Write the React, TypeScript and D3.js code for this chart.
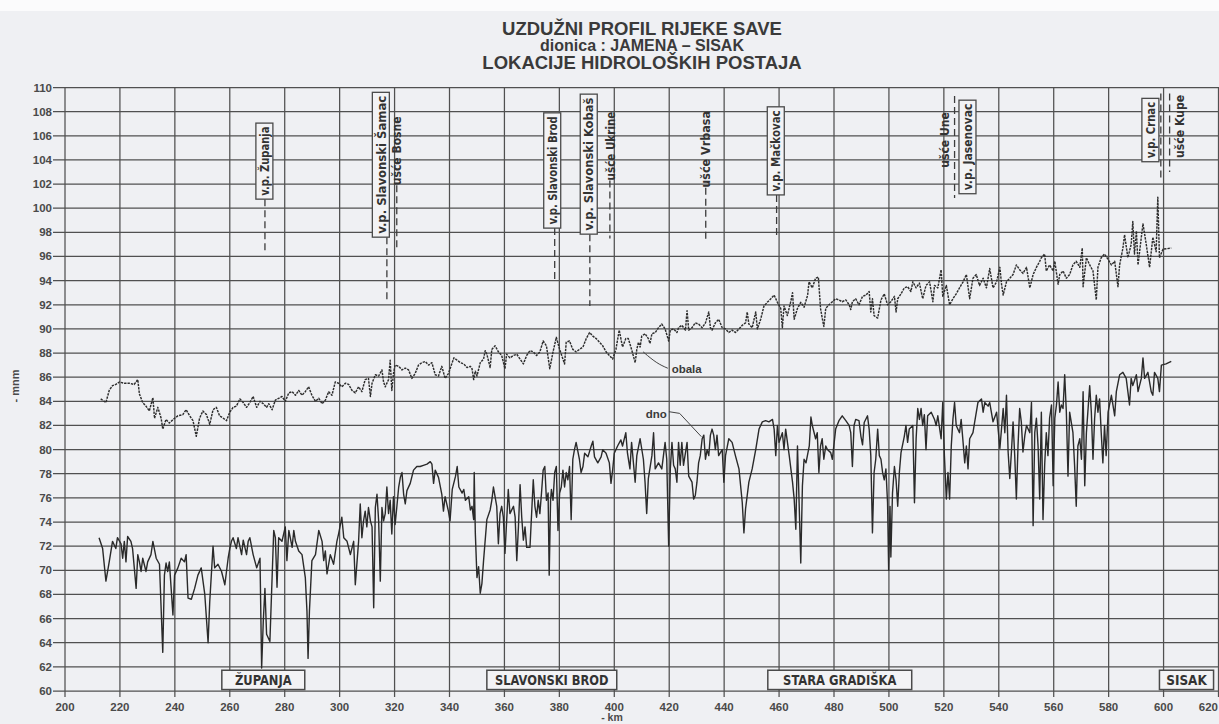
import React from "react";
import * as d3 from "d3";

// Longitudinal profile of the Sava river, Jamena – Sisak section.
// Chainage in river km, elevations in m a.s.l.

const kmTicks = d3.range(200, 621, 20);
const elevTicks = d3.range(60, 111, 2);

const titleLines = [
  "UZDUŽNI PROFIL RIJEKE SAVE",
  "dionica : JAMENA – SISAK",
  "LOKACIJE HIDROLOŠKIH POSTAJA",
];

// Bank level (obala): [km, elevation]
const obala: [number, number][] = [
  [213.0, 84.2], [214.9, 83.9], [216.1, 84.9], [217.3, 85.3], [218.5, 85.4], [219.8, 85.6], [221.6, 85.5], [223.4, 85.5],
  [225.2, 85.4], [226.5, 85.8], [227.1, 84.6], [228.3, 83.9], [229.5, 83.6], [230.7, 83.2], [232.0, 84.3], [232.6, 82.6],
  [233.8, 83.5], [235.0, 82.6], [235.6, 81.7], [236.8, 82.5], [238.0, 82.2], [239.9, 82.6], [241.1, 82.8], [242.9, 82.9],
  [244.1, 83.3], [245.4, 82.8], [246.6, 82.4], [247.8, 81.1], [249.0, 82.6], [250.2, 83.2], [251.5, 82.9], [252.7, 82.1],
  [253.9, 83.3], [255.1, 83.5], [256.3, 82.8], [257.6, 82.6], [258.8, 82.4], [260.0, 83.1], [261.2, 83.5], [262.4, 83.6],
  [263.7, 84.2], [264.9, 83.9], [266.1, 83.5], [267.3, 83.9], [268.5, 84.4], [269.8, 83.5], [271.0, 84.0], [272.2, 83.8],
  [273.4, 83.5], [274.2, 83.8], [275.4, 83.3], [276.6, 84.1], [277.8, 84.25], [279.0, 84.4], [280.2, 84.0], [281.5, 84.7],
  [282.7, 84.8], [283.9, 84.5], [285.1, 84.9], [286.3, 84.5], [287.5, 84.8], [288.7, 85.2], [289.9, 84.5], [291.2, 84.0],
  [292.4, 84.25], [293.6, 83.8], [294.8, 84.1], [296.0, 84.8], [297.2, 84.5], [298.4, 85.6], [299.6, 85.5], [300.8, 85.2],
  [302.1, 85.5], [303.3, 85.4], [304.5, 84.9], [305.7, 84.7], [306.9, 85.2], [308.1, 84.8], [309.3, 85.8], [310.5, 85.9],
  [311.2, 84.4], [311.8, 85.5], [313.0, 86.2], [314.2, 86.1], [315.4, 86.6], [316.0, 85.6], [316.6, 85.2], [317.8, 85.8],
  [318.4, 87.4], [319.0, 84.9], [319.6, 86.3], [320.2, 87.0], [321.5, 86.9], [322.7, 86.6], [323.9, 86.75], [325.1, 86.6],
  [326.3, 85.9], [327.5, 86.3], [328.7, 87.0], [329.9, 87.2], [331.2, 87.3], [332.4, 87.0], [333.6, 87.2], [334.8, 86.2],
  [336.0, 86.1], [337.2, 86.9], [338.4, 85.9], [339.6, 86.3], [341.6, 87.6], [342.8, 87.4], [344.0, 87.2], [345.2, 87.1],
  [346.4, 86.8], [347.6, 86.9], [348.2, 86.7], [348.8, 85.8], [349.4, 86.5], [350.0, 86.1], [351.2, 87.2], [352.4, 87.5],
  [353.0, 88.2], [353.6, 87.9], [354.8, 86.8], [355.4, 88.3], [356.6, 88.6], [357.8, 88.1], [359.0, 87.8], [360.2, 86.7],
  [360.8, 87.9], [362.0, 87.6], [363.3, 87.8], [364.5, 87.9], [365.7, 87.5], [366.9, 87.1], [368.1, 87.8], [369.3, 88.2],
  [370.5, 88.1], [371.7, 87.8], [372.9, 88.1], [374.1, 89.0], [375.3, 88.6], [376.5, 86.7], [377.7, 88.1], [378.9, 89.3],
  [380.1, 88.3], [381.3, 87.5], [381.9, 87.1], [382.5, 88.9], [383.7, 89.0], [384.9, 88.3], [386.1, 88.1], [387.3, 88.3],
  [388.6, 88.5], [389.8, 89.2], [391.0, 89.7], [392.2, 89.4], [393.4, 89.2], [394.6, 88.9], [395.8, 88.6], [397.0, 88.1],
  [398.2, 87.8], [399.4, 87.5], [400.0, 87.9], [400.6, 88.3], [401.8, 89.9], [403.0, 88.5], [404.2, 89.2], [405.1, 89.2],
  [406.3, 88.3], [407.6, 87.2], [408.2, 88.3], [408.8, 88.9], [409.4, 88.5], [410.0, 89.4], [411.2, 89.6], [412.4, 89.2],
  [413.0, 88.8], [413.7, 89.6], [414.9, 89.7], [416.1, 90.1], [417.3, 90.4], [418.5, 90.0], [419.8, 89.0], [420.4, 89.9],
  [421.6, 90.0], [422.8, 89.7], [423.4, 90.1], [424.6, 90.3], [425.9, 89.9], [426.5, 91.5], [427.1, 89.9], [428.3, 90.1],
  [429.5, 90.5], [430.7, 90.4], [432.0, 90.1], [433.2, 90.5], [434.4, 91.4], [435.0, 90.1], [435.6, 89.9], [436.8, 90.5],
  [438.0, 90.8], [439.3, 90.1], [440.5, 90.0], [441.7, 89.7], [442.9, 89.9], [444.1, 89.7], [445.4, 90.0], [446.6, 90.3],
  [447.8, 90.5], [448.4, 91.4], [449.0, 90.4], [450.2, 90.1], [451.5, 91.4], [452.1, 90.0], [453.3, 90.8], [454.5, 91.9],
  [455.7, 92.2], [457.0, 92.5], [458.2, 92.8], [459.4, 92.2], [460.6, 91.7], [461.2, 90.1], [461.8, 91.9], [463.0, 91.1],
  [464.3, 92.3], [464.9, 93.0], [465.5, 90.8], [466.7, 91.7], [467.9, 92.2], [469.1, 91.8], [470.4, 92.8], [470.9, 93.9],
  [472.1, 93.4], [473.3, 94.2], [474.3, 94.3], [475.1, 91.7], [475.7, 90.9], [476.3, 90.2], [477.0, 91.7], [478.2, 92.0],
  [479.4, 92.25], [480.6, 92.5], [481.8, 92.4], [483.0, 92.25], [484.3, 92.4], [485.5, 92.0], [486.1, 91.6], [486.7, 92.25],
  [487.9, 92.5], [489.1, 92.0], [490.4, 92.7], [491.6, 92.8], [492.8, 93.1], [493.4, 91.4], [494.0, 92.5], [494.6, 91.1],
  [495.9, 90.9], [497.1, 92.4], [498.3, 92.9], [499.5, 92.0], [500.7, 92.25], [502.0, 92.7], [502.6, 91.4], [503.2, 92.5],
  [504.4, 92.9], [505.6, 93.4], [506.8, 93.5], [508.0, 93.1], [508.7, 93.9], [509.9, 93.4], [511.1, 93.8], [512.3, 92.5],
  [513.5, 93.6], [514.8, 93.9], [516.0, 92.25], [516.6, 93.6], [517.8, 93.4], [519.0, 94.9], [519.6, 92.7], [520.9, 93.6],
  [522.1, 92.0], [523.3, 92.5], [524.5, 92.9], [525.7, 93.4], [527.0, 93.9], [528.2, 94.5], [529.4, 92.5], [530.6, 94.2],
  [531.8, 94.5], [533.0, 93.6], [534.3, 94.2], [535.5, 93.4], [536.7, 95.0], [537.9, 93.4], [539.2, 93.9], [540.4, 95.1],
  [541.0, 93.7], [541.6, 92.8], [542.8, 93.9], [544.0, 94.2], [545.2, 94.5], [546.4, 95.3], [547.6, 94.9], [548.8, 94.6],
  [550.1, 95.1], [551.3, 93.4], [552.5, 94.5], [553.7, 95.1], [554.9, 95.6], [555.5, 95.9], [556.7, 96.2], [557.3, 94.8],
  [558.5, 95.3], [559.8, 94.8], [560.4, 95.6], [561.6, 93.7], [562.2, 94.5], [563.4, 94.8], [564.6, 94.2], [565.8, 94.5],
  [567.0, 95.3], [568.2, 95.6], [569.5, 95.1], [570.4, 96.7], [570.7, 93.5], [571.9, 95.9], [573.1, 95.3], [574.3, 94.8],
  [575.5, 92.4], [576.1, 95.1], [577.3, 95.9], [578.5, 96.2], [579.8, 95.75], [581.0, 95.3], [582.2, 95.6], [583.4, 93.5],
  [584.0, 95.3], [585.2, 96.7], [585.8, 97.8], [587.0, 95.9], [588.2, 97.0], [588.8, 98.9], [589.4, 96.2], [590.1, 98.1],
  [590.7, 95.3], [591.9, 97.6], [592.5, 98.7], [593.7, 97.0], [594.9, 95.1], [596.1, 97.6], [597.3, 96.4], [597.9, 100.9],
  [598.5, 95.9], [599.8, 96.6], [602.8, 96.7],
];

// River bed level (dno): [km, elevation]
const dno: [number, number][] = [
  [212.4, 72.7], [213.7, 71.8], [214.9, 69.1], [216.1, 70.7], [217.3, 72.4], [218.5, 71.8], [219.1, 72.7], [220.4, 72.2],
  [221.0, 71.0], [221.6, 72.4], [222.2, 70.7], [222.8, 72.8], [224.0, 72.4], [224.6, 71.8], [225.9, 68.5], [226.5, 71.3],
  [227.1, 70.7], [227.7, 69.9], [228.3, 71.0], [229.5, 69.9], [230.1, 70.7], [231.3, 71.3], [232.0, 72.4], [233.2, 71.0],
  [234.4, 70.5], [235.6, 63.2], [236.2, 69.6], [236.8, 70.6], [237.4, 69.9], [238.0, 70.7], [239.3, 66.3], [239.9, 69.6],
  [241.1, 70.2], [242.3, 71.0], [243.5, 70.7], [244.1, 71.3], [244.8, 67.7], [246.0, 67.6], [247.2, 68.5], [248.4, 69.6],
  [249.6, 70.2], [250.9, 68.0], [252.1, 64.0], [252.7, 67.4], [253.9, 72.0], [254.5, 70.2], [255.7, 70.5], [257.0, 69.9],
  [258.2, 68.8], [259.4, 71.0], [260.0, 71.8], [260.6, 72.4], [261.2, 72.7], [262.4, 71.8], [263.0, 72.7], [264.3, 71.3],
  [264.9, 72.5], [266.1, 71.3], [266.7, 72.4], [267.3, 72.7], [268.5, 71.3], [269.8, 70.2], [271.0, 71.0], [271.6, 61.9],
  [272.2, 65.8], [272.8, 68.5], [273.4, 64.7], [274.6, 64.1], [276.0, 73.3], [276.6, 72.7], [277.2, 68.6], [277.8, 72.7],
  [279.0, 72.4], [280.2, 73.6], [280.8, 70.8], [281.5, 73.3], [282.7, 71.9], [283.3, 73.3], [283.9, 72.4], [285.1, 71.6],
  [286.3, 71.3], [287.5, 69.4], [288.1, 66.6], [288.5, 62.7], [289.0, 66.6], [289.9, 70.8], [291.2, 71.3], [292.4, 73.3],
  [293.6, 72.4], [294.2, 70.8], [294.8, 71.6], [295.4, 69.7], [296.6, 71.3], [297.8, 70.5], [299.0, 72.4], [299.6, 73.0],
  [300.8, 74.4], [301.5, 72.7], [302.7, 72.4], [303.9, 71.3], [305.1, 72.4], [305.7, 68.8], [306.9, 72.4], [307.5, 75.5],
  [308.1, 72.7], [308.7, 74.1], [309.3, 74.9], [309.9, 73.6], [310.5, 75.2], [311.2, 74.1], [311.8, 73.6], [312.4, 66.9],
  [313.0, 75.2], [313.6, 76.3], [314.2, 74.1], [314.8, 69.1], [315.4, 75.2], [316.0, 74.1], [316.6, 74.7], [317.2, 76.9],
  [317.8, 74.7], [318.4, 75.8], [319.0, 73.0], [319.6, 76.1], [320.2, 73.8], [320.8, 75.2], [321.5, 76.9], [322.1, 77.7],
  [322.7, 78.1], [323.3, 76.3], [323.9, 75.5], [324.5, 76.6], [325.7, 77.2], [326.9, 78.3], [328.1, 78.6], [329.3, 78.6],
  [330.5, 78.7], [331.8, 78.8], [333.0, 79.0], [333.6, 78.8], [334.2, 77.2], [334.8, 78.3], [336.0, 77.7], [337.2, 76.3],
  [337.8, 74.9], [338.4, 76.1], [339.6, 74.9], [340.2, 74.1], [341.0, 76.7], [342.2, 77.8], [342.8, 78.6], [343.4, 76.9],
  [344.6, 76.4], [345.2, 76.7], [345.8, 75.8], [347.0, 76.1], [347.6, 75.0], [348.2, 75.3], [348.8, 74.2], [349.0, 78.1],
  [349.4, 73.1], [350.0, 69.4], [350.6, 70.3], [351.2, 68.1], [351.8, 68.9], [352.4, 70.8], [353.6, 74.2], [354.8, 75.0],
  [355.4, 75.8], [356.0, 76.9], [357.2, 75.3], [357.8, 72.2], [358.4, 74.7], [359.0, 75.3], [359.6, 74.4], [360.2, 71.4],
  [361.4, 76.7], [362.0, 74.7], [363.3, 75.3], [363.9, 74.4], [364.5, 70.8], [365.1, 73.6], [365.7, 77.1], [366.3, 74.4],
  [366.9, 72.5], [367.5, 73.6], [368.1, 71.9], [369.3, 71.9], [370.5, 77.5], [371.1, 75.3], [371.7, 74.4], [372.3, 75.8],
  [372.9, 74.7], [373.5, 76.4], [374.1, 78.3], [374.7, 78.6], [375.3, 75.8], [375.9, 76.4], [376.3, 69.6], [376.8, 75.8],
  [377.1, 76.7], [377.7, 75.8], [378.3, 78.1], [378.9, 78.6], [379.5, 73.3], [380.1, 76.4], [380.7, 76.9], [381.3, 78.3],
  [381.9, 76.9], [382.5, 78.1], [383.1, 77.5], [383.7, 78.6], [384.3, 74.2], [384.9, 79.2], [385.5, 80.0], [386.1, 80.6],
  [387.3, 79.2], [387.9, 78.1], [388.6, 78.6], [389.2, 79.7], [390.4, 79.4], [391.6, 80.3], [392.2, 80.7], [392.8, 79.4],
  [394.0, 78.9], [395.2, 79.4], [395.8, 80.0], [397.0, 79.7], [398.2, 78.9], [398.8, 77.2], [399.4, 78.3], [400.0, 79.7],
  [401.2, 80.3], [402.4, 80.8], [403.0, 80.3], [404.2, 81.4], [404.8, 79.7], [405.7, 78.4], [406.3, 80.6], [407.6, 77.3],
  [408.2, 79.5], [409.4, 80.9], [410.6, 79.2], [411.2, 77.3], [411.8, 74.7], [412.4, 77.6], [413.7, 79.5], [414.3, 81.4],
  [414.9, 78.4], [416.1, 78.9], [417.3, 78.4], [417.9, 79.5], [418.5, 80.6], [419.1, 79.2], [419.8, 72.0], [420.4, 78.4],
  [421.0, 80.6], [421.6, 78.7], [422.2, 78.4], [422.8, 77.3], [423.4, 80.6], [424.0, 78.7], [424.6, 80.6], [425.2, 78.7],
  [426.5, 80.6], [427.1, 77.8], [428.3, 77.3], [428.9, 75.9], [429.5, 76.2], [430.1, 77.3], [430.7, 78.9], [431.3, 79.5],
  [432.0, 80.9], [432.6, 81.2], [433.2, 79.2], [433.8, 80.0], [434.4, 79.5], [435.0, 81.2], [435.6, 81.7], [436.2, 81.2],
  [436.8, 80.0], [437.4, 81.2], [438.0, 79.5], [439.3, 80.0], [439.9, 77.3], [440.5, 79.5], [441.7, 80.9], [442.9, 80.6],
  [444.1, 79.5], [445.4, 78.4], [446.6, 75.6], [447.2, 73.1], [447.8, 75.1], [449.0, 77.3], [450.2, 78.4], [451.5, 80.0],
  [452.7, 81.7], [453.9, 82.3], [455.1, 82.4], [456.3, 82.3], [457.6, 82.5], [458.2, 81.7], [458.8, 79.5], [459.4, 82.0],
  [460.0, 80.6], [461.2, 81.4], [461.8, 80.0], [462.4, 81.7], [463.7, 79.5], [464.3, 78.4], [464.9, 77.3], [465.5, 75.9],
  [466.1, 73.4], [466.7, 80.3], [467.3, 75.6], [467.9, 70.6], [468.5, 77.0], [469.1, 79.2], [469.8, 78.9], [471.0, 80.3],
  [471.6, 82.7], [472.1, 82.0], [473.3, 80.9], [473.9, 81.4], [474.5, 78.1], [475.1, 80.3], [475.7, 80.9], [476.3, 79.2],
  [477.0, 80.3], [477.6, 80.0], [478.8, 79.75], [479.4, 79.2], [480.6, 81.7], [481.8, 82.4], [483.0, 82.8], [484.3, 82.4],
  [485.5, 82.0], [486.1, 81.4], [486.7, 78.6], [487.3, 82.0], [487.9, 82.5], [489.1, 82.4], [489.8, 81.1], [490.4, 80.4],
  [491.0, 82.25], [492.2, 82.8], [492.8, 81.7], [493.4, 79.5], [494.0, 73.1], [494.6, 78.1], [495.2, 79.2], [495.9, 81.7],
  [496.5, 79.5], [497.1, 79.2], [497.7, 78.1], [498.3, 77.5], [498.9, 78.4], [499.5, 75.6], [499.9, 70.0], [500.4, 75.3],
  [500.7, 71.1], [501.3, 76.4], [502.0, 78.6], [502.6, 77.5], [503.2, 75.3], [503.8, 78.1], [504.4, 79.75], [505.6, 81.1],
  [506.2, 82.0], [506.8, 80.6], [507.4, 81.7], [508.7, 82.0], [509.3, 75.6], [509.9, 80.9], [510.5, 83.4], [511.1, 82.5],
  [511.7, 83.4], [512.3, 82.0], [512.9, 82.9], [513.5, 80.0], [514.1, 82.8], [515.4, 83.1], [516.6, 82.5], [517.2, 82.0],
  [517.8, 82.8], [519.0, 80.9], [519.6, 83.9], [520.2, 79.5], [520.9, 75.9], [521.5, 78.1], [522.1, 75.9], [522.7, 80.3],
  [523.3, 82.5], [523.9, 83.9], [524.5, 82.0], [525.7, 81.4], [526.3, 82.5], [527.0, 80.6], [527.6, 78.9], [528.2, 80.3],
  [528.8, 78.4], [529.4, 80.9], [530.6, 81.4], [531.2, 82.25], [532.4, 83.9], [533.7, 84.2], [534.3, 83.1], [534.9, 83.9],
  [536.1, 83.6], [536.7, 83.9], [537.9, 82.3], [539.2, 83.1], [540.4, 80.1], [541.6, 83.4], [542.2, 81.4], [542.8, 84.5],
  [543.4, 79.8], [544.0, 77.6], [544.6, 79.8], [545.2, 82.3], [545.8, 79.5], [546.4, 75.9], [547.0, 80.3], [547.6, 83.4],
  [548.2, 82.3], [548.8, 79.8], [549.5, 81.2], [550.1, 82.0], [551.3, 81.4], [551.9, 83.9], [552.5, 73.7], [553.1, 81.4],
  [553.7, 82.6], [554.3, 80.3], [554.9, 75.9], [555.5, 83.1], [556.1, 74.2], [556.7, 78.7], [557.3, 81.4], [557.9, 79.5],
  [558.5, 82.6], [559.2, 83.7], [559.8, 77.0], [560.4, 82.6], [561.0, 83.7], [561.6, 85.6], [562.2, 83.1], [562.8, 83.7],
  [563.4, 83.4], [564.0, 86.2], [564.6, 83.1], [565.2, 77.8], [565.8, 83.1], [567.0, 81.4], [567.6, 78.7], [568.2, 75.3],
  [568.8, 80.3], [569.5, 80.9], [570.1, 79.2], [570.7, 84.8], [571.3, 77.0], [571.9, 81.4], [573.1, 85.3], [573.7, 83.1],
  [574.3, 79.2], [574.9, 82.6], [575.5, 84.5], [576.1, 83.1], [576.7, 84.2], [577.3, 81.4], [577.9, 78.9], [578.5, 82.0],
  [579.1, 79.5], [579.8, 83.1], [581.0, 84.5], [582.2, 82.8], [582.8, 84.8], [584.0, 86.2], [585.2, 86.4], [586.4, 85.9],
  [587.0, 84.8], [587.6, 83.7], [588.2, 85.9], [588.8, 85.3], [590.1, 86.2], [590.7, 84.8], [591.9, 85.9], [592.5, 87.6],
  [593.1, 85.9], [594.3, 86.4], [595.5, 84.8], [596.1, 84.5], [596.7, 86.4], [597.9, 85.9], [598.5, 84.8], [599.2, 87.0],
  [600.9, 87.1], [602.8, 87.3],
];

// Gauging stations (v.p.) and tributary mouths (ušće).
// km: chainage of the dashed marker; labelKm: chainage of the label;
// top/bottom: elevation span of the label; from/to: elevation span of the marker.
type Station = {
  name: string;
  km: number | null;
  labelKm: number;
  top: number;
  bottom: number;
  from?: number;
  to?: number;
  boxed: boolean;
};

const stations: Station[] = [
  { name: "v.p. Županja", km: 272.8, labelKm: 272.6, top: 107.05, bottom: 100.75, to: 96.3, boxed: true },
  { name: "v.p. Slavonski Šamac", km: 317.2, labelKm: 315.0, top: 109.6, bottom: 97.6, to: 92.4, boxed: true },
  { name: "ušće Bosne", km: 320.8, labelKm: 320.8, top: 107.6, bottom: 101.9, to: 96.7, boxed: false },
  { name: "v.p. Slavonski Brod", km: 378.3, labelKm: 377.4, top: 107.9, bottom: 98.35, to: 93.8, boxed: true },
  { name: "v.p. Slavonski Kobaš", km: 391.1, labelKm: 390.7, top: 109.45, bottom: 97.85, to: 91.9, boxed: true },
  { name: "ušće Ukrine", km: 398.4, labelKm: 398.4, top: 108.0, bottom: 102.3, to: 97.5, boxed: false },
  { name: "ušće Vrbasa", km: 433.3, labelKm: 433.3, top: 108.05, bottom: 101.7, to: 97.35, boxed: false },
  { name: "v.p. Mačkovac", km: 459.1, labelKm: 458.8, top: 108.4, bottom: 101.1, to: 97.6, boxed: true },
  { name: "ušće Une", km: 523.9, labelKm: 520.3, top: 107.95, bottom: 103.35, from: 109.3, to: 100.85, boxed: false },
  { name: "v.p. Jasenovac", km: null, labelKm: 528.6, top: 108.95, bottom: 101.2, boxed: true },
  { name: "v.p. Crnac", km: 599.0, labelKm: 595.2, top: 109.1, bottom: 103.85, from: 109.5, to: 102.35, boxed: true },
  { name: "ušće Kupe", km: 602.2, labelKm: 605.8, top: 109.4, bottom: 104.15, from: 109.5, to: 103.0, boxed: false },
];

// Towns along the section: [name, from km, to km]
const towns: [string, number, number][] = [
  ["ŽUPANJA", 257.1, 287.3],
  ["SLAVONSKI BROD", 353.6, 400.9],
  ["STARA GRADIŠKA", 455.9, 508.3],
  ["SISAK", 598.5, 618.2],
];

// Series labels with leader lines: [km, elevation] points
const obalaLabel = { text: "obala", at: [420.9, 86.35] as [number, number] };
const obalaLeader: [number, number][] = [[410.5, 88.1], [415.4, 87.15], [419.5, 86.74]];
const dnoLabel = { text: "dno", at: [419.1, 82.6] as [number, number] };
const dnoLeader: [number, number][] = [[419.9, 83.14], [423.8, 83.0], [431.7, 81.07]];

const SANS = "'Liberation Sans', Arial, Helvetica, sans-serif";
const NARROW = "'Liberation Sans Narrow', 'DejaVu Sans Condensed', 'Liberation Sans', Arial, sans-serif";

export default function App() {
  const W = 1219;
  const H = 724;
  const x = d3.scaleLinear().domain([200, 620]).range([65, 1218.5]);
  const y = d3.scaleLinear().domain([60, 110]).range([691, 87.5]);
  const line = d3
    .line<[number, number]>()
    .x((d) => x(d[0]))
    .y((d) => y(d[1]));
  const curve = d3
    .line<[number, number]>()
    .x((d) => x(d[0]))
    .y((d) => y(d[1]))
    .curve(d3.curveBasis);

  const grid = "#505050";
  const ink = "#3a3a3a";
  const lastTick = kmTicks[kmTicks.length - 1];

  return (
    <>
      <style>{`body{margin:0;background:#eff0f3}`}</style>
      <svg width={W} height={H} viewBox={`0 0 ${W} ${H}`} style={{ display: "block" }}>
        <rect x={0} y={0} width={W} height={H} fill="#eff0f3" />
        <rect x={0} y={0} width={W} height={11} fill="#fbfbfc" />

        {/* title */}
        <g fontFamily={SANS} fontWeight="bold" fill="#3a3a3a" textAnchor="middle">
          <text x={642} y={35} fontSize={18.5}>{titleLines[0]}</text>
          <text x={642} y={51} fontSize={16}>{titleLines[1]}</text>
          <text x={642} y={69} fontSize={18.5}>{titleLines[2]}</text>
        </g>

        {/* grid */}
        <g stroke={grid} strokeWidth={1.25}>
          {elevTicks.map((v) => (
            <line key={`h${v}`} x1={53} x2={1219} y1={y(v)} y2={y(v)} />
          ))}
          {kmTicks.map((k) => (
            <line key={`v${k}`} x1={x(k)} x2={x(k)} y1={y(110)} y2={697} />
          ))}
        </g>

        {/* axis labels */}
        <g fontFamily={SANS} fontWeight="bold" fontSize={11.5} fill="#4a4a4a">
          {elevTicks.map((v) => (
            <text key={`yl${v}`} x={52} y={y(v) + 4} textAnchor="end">{v}</text>
          ))}
          {kmTicks.map((k) => (
            <text
              key={`xl${k}`}
              x={k === lastTick ? W - 1 : x(k)}
              y={711}
              textAnchor={k === lastTick ? "end" : "middle"}
            >
              {k}
            </text>
          ))}
          <text transform={`translate(19,386) rotate(-90)`} textAnchor="middle" fontSize={11}>- mnm</text>
          <text x={612} y={721} textAnchor="middle" fontSize={10.5}>- km</text>
        </g>

        {/* profiles */}
        <path d={line(dno) ?? ""} fill="none" stroke="#2a2a2a" strokeWidth={1.4} strokeLinejoin="round" />
        <path
          d={line(obala) ?? ""}
          fill="none"
          stroke="#2e2e2e"
          strokeWidth={1.45}
          strokeDasharray="2.4 1"
          strokeLinejoin="round"
        />

        {/* series labels */}
        <g fontFamily={SANS} fontWeight="bold" fontSize={11.5} fill={ink}>
          <path d={curve(obalaLeader) ?? ""} fill="none" stroke="#444" strokeWidth={1} />
          <text x={x(obalaLabel.at[0])} y={y(obalaLabel.at[1])}>{obalaLabel.text}</text>
          <path d={line(dnoLeader) ?? ""} fill="none" stroke="#444" strokeWidth={1} />
          <text x={x(dnoLabel.at[0])} y={y(dnoLabel.at[1])} textAnchor="end">{dnoLabel.text}</text>
        </g>

        {/* stations */}
        <g fontFamily={NARROW} fontWeight="bold" fontSize={13} fill="#333">
          {stations.map((s) => {
            const cx = x(s.labelKm);
            const yTop = y(s.top);
            const yBot = y(s.bottom);
            const h = yBot - yTop;
            const cy = (yTop + yBot) / 2;
            return (
              <g key={s.name}>
                {s.km !== null && s.to !== undefined && (
                  <line
                    x1={x(s.km)}
                    x2={x(s.km)}
                    y1={y(s.from ?? s.bottom)}
                    y2={y(s.to)}
                    stroke="#3c3c3c"
                    strokeWidth={1.3}
                    strokeDasharray="7 4"
                  />
                )}
                {s.boxed && (
                  <rect x={cx - 8.5} y={yTop} width={17} height={h} fill="#f3f3f5" stroke="#4a4a4a" strokeWidth={1.3} />
                )}
                <text
                  transform={`translate(${cx},${cy}) rotate(-90)`}
                  textAnchor="middle"
                  dy="0.36em"
                  textLength={s.boxed ? h - 7 : h}
                  lengthAdjust="spacingAndGlyphs"
                >
                  {s.name}
                </text>
              </g>
            );
          })}
        </g>

        {/* towns */}
        <g fontFamily={NARROW} fontWeight="bold" fontSize={13.5} fill="#333">
          {towns.map(([name, a, b]) => {
            const x0 = x(a);
            const x1 = x(b);
            const y0 = y(61.72);
            const y1 = y(60.12);
            return (
              <g key={name}>
                <rect x={x0} y={y0} width={x1 - x0} height={y1 - y0} fill="#f3f3f5" stroke="#4a4a4a" strokeWidth={1.5} />
                <text
                  x={(x0 + x1) / 2}
                  y={(y0 + y1) / 2 + 5}
                  textAnchor="middle"
                  textLength={name.length * 8.1}
                  lengthAdjust="spacingAndGlyphs"
                >
                  {name}
                </text>
              </g>
            );
          })}
        </g>
      </svg>
    </>
  );
}
